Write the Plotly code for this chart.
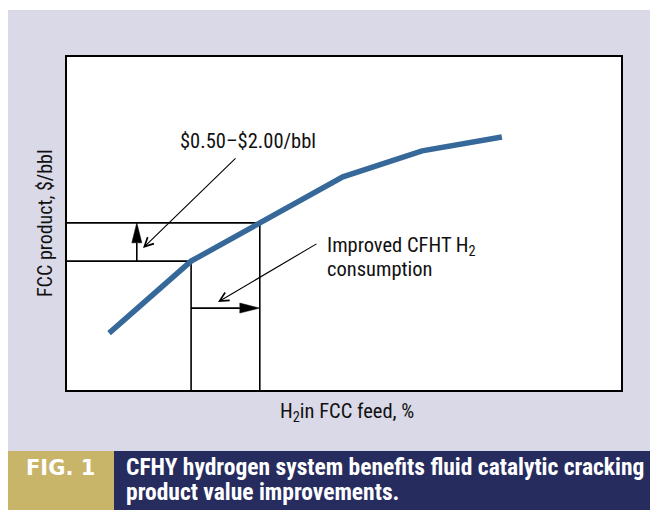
import plotly.graph_objects as go

# ---- data (arbitrary 0-100 units) ----
feed_h2 = [7.6, 22.4, 49.8, 64.1, 78.5]          # H2 in FCC feed, %
product_value = [17.1, 38.7, 64.0, 71.8, 76.0]    # FCC product, $/bbl

ref_x = [22.4, 34.8]      # base case / improved H2 in feed
ref_y = [38.7, 50.2]      # base / improved product value
value_arrow_x = 12.6      # x where the value-gain arrow sits
feed_arrow_y = 24.6       # y where the feed-gain arrow sits

label_value = "$0.50–$2.00/bbl"
label_h2_lines = ["Improved CFHT H<sub>2</sub>", "consumption"]
x_title = "H<sub>2</sub>in FCC feed, %"
y_title = "FCC product, $/bbl"
fig_tag = "FIG. 1"
caption_lines = ["CFHY hydrogen system benefits fluid catalytic cracking",
                 "product value improvements."]

# ---- geometry helpers (page is offset by the 8px body margin) ----
OFF = 8
W, H = 658 - OFF, 510 - OFF
L, T = 67 - OFF, 57 - OFF
PW, PH = 554, 333
R, B = W - L - PW, H - T - PH
XR, YR = [0, 100], [0, 100]
sx = PW / (XR[1] - XR[0])   # px per x unit
sy = PH / (YR[1] - YR[0])   # px per y unit

def X(px):  # window pixel -> paper x
    return (px - OFF - L) / PW

def Y(py):  # window pixel -> paper y
    return (T + PH - (py - OFF)) / PH

def dx(px):
    return XR[0] + (px - OFF - L) / sx

def dy(py):
    return YR[0] + (T + PH - (py - OFF)) / sy

COND = "Liberation Sans Narrow, Arial Narrow, Roboto Condensed, Roboto, sans-serif"
BLUE = "#36699a"
LAV = "#dad9e7"
NAVY = "#272c5f"
GOLD = "#c9b56a"
INK = "#111111"

fig = go.Figure()

line_style = dict(color="black", width=1.6)
# horizontal reference lines
fig.add_trace(go.Scatter(x=[XR[0], ref_x[1]], y=[ref_y[1], ref_y[1]], mode="lines", line=line_style, hoverinfo="skip"))
fig.add_trace(go.Scatter(x=[XR[0], ref_x[0]], y=[ref_y[0], ref_y[0]], mode="lines", line=line_style, hoverinfo="skip"))
# vertical reference lines
fig.add_trace(go.Scatter(x=[ref_x[0], ref_x[0]], y=[YR[0], ref_y[0]], mode="lines", line=line_style, hoverinfo="skip"))
fig.add_trace(go.Scatter(x=[ref_x[1], ref_x[1]], y=[YR[0], ref_y[1]], mode="lines", line=line_style, hoverinfo="skip"))

head_len, head_w = 20, 10
# up arrow (value gain)
fig.add_trace(go.Scatter(x=[value_arrow_x, value_arrow_x], y=[ref_y[0], ref_y[1] - head_len / sy],
                         mode="lines", line=line_style, hoverinfo="skip"))
fig.add_trace(go.Scatter(
    x=[value_arrow_x - head_w / 2 / sx, value_arrow_x + head_w / 2 / sx, value_arrow_x, value_arrow_x - head_w / 2 / sx],
    y=[ref_y[1] - head_len / sy, ref_y[1] - head_len / sy, ref_y[1], ref_y[1] - head_len / sy],
    mode="lines", fill="toself", fillcolor="black", line=dict(color="black", width=0.5), hoverinfo="skip"))
# right arrow (feed gain)
fig.add_trace(go.Scatter(x=[ref_x[0], ref_x[1] - head_len / sx], y=[feed_arrow_y, feed_arrow_y],
                         mode="lines", line=line_style, hoverinfo="skip"))
fig.add_trace(go.Scatter(
    x=[ref_x[1] - head_len / sx, ref_x[1] - head_len / sx, ref_x[1], ref_x[1] - head_len / sx],
    y=[feed_arrow_y - head_w / 2 / sy, feed_arrow_y + head_w / 2 / sy, feed_arrow_y, feed_arrow_y - head_w / 2 / sy],
    mode="lines", fill="toself", fillcolor="black", line=dict(color="black", width=0.5), hoverinfo="skip"))

# main curve
fig.add_trace(go.Scatter(x=feed_h2, y=product_value, mode="lines",
                         line=dict(color=BLUE, width=5.5), hoverinfo="skip"))

shapes = [
    dict(type="rect", xref="paper", yref="paper", x0=X(0), x1=X(662), y0=Y(451), y1=Y(10),
         fillcolor=LAV, line=dict(width=0), layer="below"),
    dict(type="rect", xref="paper", yref="paper", x0=0, x1=1, y0=0, y1=1,
         fillcolor="white", line=dict(width=0), layer="below"),
    dict(type="rect", xref="paper", yref="paper", x0=X(0), x1=X(114), y0=Y(514), y1=Y(451),
         fillcolor=GOLD, line=dict(width=0), layer="below"),
    dict(type="rect", xref="paper", yref="paper", x0=X(114), x1=X(662), y0=Y(514), y1=Y(451),
         fillcolor=NAVY, line=dict(width=0), layer="below"),
]

annotations = [
    # callout 1
    dict(x=dx(143), y=dy(248), ax=dx(237), ay=dy(157), xref="x", yref="y", axref="x", ayref="y",
         text="", showarrow=True, arrowhead=5, arrowsize=1.6, arrowwidth=1.1, arrowcolor="black", standoff=0),
    dict(x=X(248), y=Y(141), xref="paper", yref="paper", text=label_value, showarrow=False,
         font=dict(family=COND, size=20.5, color=INK), xanchor="center", yanchor="middle"),
    # callout 2
    dict(x=dx(218), y=dy(302), ax=dx(318), ay=dy(243), xref="x", yref="y", axref="x", ayref="y",
         text="", showarrow=True, arrowhead=5, arrowsize=1.6, arrowwidth=1.1, arrowcolor="black", standoff=0),
    dict(x=X(325), y=Y(246), xref="paper", yref="paper", text=label_h2_lines[0], showarrow=False,
         font=dict(family=COND, size=20.5, color=INK), xanchor="left", yanchor="middle"),
    dict(x=X(325), y=Y(269), xref="paper", yref="paper", text=label_h2_lines[1], showarrow=False,
         font=dict(family=COND, size=20.5, color=INK), xanchor="left", yanchor="middle"),
    # axis titles
    dict(x=X(347), y=Y(413), xref="paper", yref="paper", text=x_title, showarrow=False,
         font=dict(family=COND, size=20.5, color=INK), xanchor="center", yanchor="middle"),
    dict(x=X(45), y=Y(223), xref="paper", yref="paper", text=y_title, showarrow=False, textangle=-90,
         font=dict(family=COND, size=20, color=INK), xanchor="center", yanchor="middle"),
    # caption
    dict(x=X(60), y=Y(468), xref="paper", yref="paper", text="<b>" + fig_tag + "</b>", showarrow=False,
         font=dict(family="DejaVu Sans", size=21, color="white"), xanchor="center", yanchor="middle"),
    dict(x=X(124), y=Y(467), xref="paper", yref="paper", text="<b>" + caption_lines[0] + "</b>", showarrow=False,
         align="left", font=dict(family=COND, size=23.5, color="white"), xanchor="left", yanchor="middle"),
    dict(x=X(124), y=Y(492), xref="paper", yref="paper", text="<b>" + caption_lines[1] + "</b>", showarrow=False,
         align="left", font=dict(family=COND, size=23.5, color="white"), xanchor="left", yanchor="middle"),
]

axis_common = dict(showgrid=False, zeroline=False, showticklabels=False, ticks="",
                   showline=True, linecolor="black", linewidth=2.2, mirror=True, fixedrange=True)

fig.update_layout(
    width=W, height=H,
    margin=dict(l=L, r=R, t=T, b=B, pad=0),
    paper_bgcolor="white", plot_bgcolor="rgba(0,0,0,0)",
    showlegend=False,
    xaxis=dict(range=XR, **axis_common),
    yaxis=dict(range=YR, **axis_common),
    shapes=shapes,
    annotations=annotations,
)

fig.write_html("out.html")
